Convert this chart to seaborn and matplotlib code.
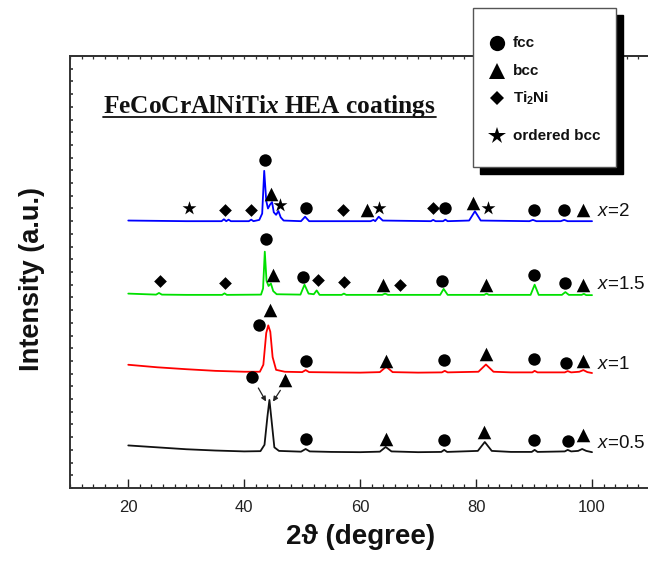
import numpy as np
import pandas as pd
import matplotlib
matplotlib.use("Agg")
import matplotlib.pyplot as plt
import seaborn as sns
from matplotlib.ticker import MultipleLocator, NullFormatter
from matplotlib.patches import Rectangle
from matplotlib.lines import Line2D

# ---------------- data ----------------
sample_names = ["x=0.5", "x=1", "x=1.5", "x=2"]
sample_colors = ["#111111", "#ff0000", "#00e000", "#0000ff"]

tt_05 = [20, 25, 30, 35, 40, 42.8, 43.5, 44.0, 44.35, 44.7, 45.2, 46, 49.8, 50.6, 51.3, 55, 60,
         63.4, 64.4, 65.4, 70, 74.0, 74.5, 75.0, 80.3, 81.5, 82.7, 86, 89.6, 90.1, 90.6,
         95.3, 95.8, 96.4, 97.6, 98.3, 99.0, 100]
I_05 = [3.35, 3.2, 3.05, 2.95, 2.88, 2.9, 3.4, 5.6, 6.93, 5.4, 3.2, 2.92, 2.86, 3.07, 2.88, 2.84, 2.82,
        2.86, 3.23, 2.88, 2.82, 2.84, 3.0, 2.84, 2.92, 3.62, 2.92, 2.84, 2.84, 3.0, 2.84,
        2.88, 3.0, 2.88, 2.92, 3.07, 2.92, 2.82]

tt_1 = [20, 25, 30, 35, 40, 42.7, 43.3, 43.8, 44.15, 44.5, 44.9, 45.5, 47, 50.0, 50.6, 51.2, 55, 60,
        63.4, 64.5, 65.6, 70, 74.1, 74.6, 75.1, 80.4, 81.7, 83.0, 86, 89.7, 90.1, 90.6,
        95.3, 95.8, 96.4, 97.8, 98.5, 99.2, 100]
I_1 = [9.7, 9.5, 9.35, 9.22, 9.15, 9.15, 9.7, 12.2, 12.8, 12.3, 10.3, 9.3, 9.15, 9.12, 9.28, 9.12, 9.1, 9.08,
       9.12, 9.55, 9.12, 9.08, 9.1, 9.22, 9.1, 9.15, 9.72, 9.15, 9.1, 9.1, 9.22, 9.1,
       9.1, 9.2, 9.1, 9.15, 9.28, 9.12, 9.05]

tt_15 = [20, 24.8, 25.3, 25.8, 30, 36.2, 36.6, 37.0, 42.9, 43.25, 43.55, 43.85, 44.2, 44.6, 45.0, 45.6,
         49.7, 50.4, 51.1, 52.0, 52.5, 53.0, 56.8, 57.2, 57.6, 63.8, 64.3, 64.8, 73.8, 74.4, 75.1,
         81.4, 81.8, 82.2, 89.4, 90.1, 90.8, 94.8, 95.4, 96.0, 98.2, 98.6, 99.0, 100]
I_15 = [15.3, 15.22, 15.35, 15.22, 15.2, 15.2, 15.32, 15.2, 15.22, 15.7, 18.6, 16.3, 15.9, 16.1, 15.5, 15.25,
        15.22, 16.0, 15.3, 15.25, 15.55, 15.2, 15.2, 15.3, 15.2, 15.2, 15.3, 15.2, 15.2, 15.67, 15.2,
        15.2, 15.3, 15.2, 15.2, 16.0, 15.2, 15.2, 15.42, 15.2, 15.2, 15.28, 15.18, 15.18]

tt_2 = [20, 30, 36.1, 36.5, 36.9, 37.3, 37.7, 40.8, 41.2, 41.6, 42.6, 43.1, 43.45, 43.8, 44.1, 44.45,
        44.8, 45.1, 45.5, 45.9, 46.3, 46.8, 49.8, 50.5, 51.2, 61.8, 62.3, 62.6, 63.2, 63.9, 72.2, 72.6,
        73.0, 74.3, 74.7, 75.1, 78.8, 79.8, 80.8, 89.2, 89.8, 90.4, 94.6, 95.2, 95.8, 100]
I_2 = [21.05, 21.0, 21.0, 21.15, 21.0, 21.12, 21.0, 21.0, 21.12, 21.0, 21.1, 21.6, 24.96, 22.6, 22.0, 22.3,
       22.5, 21.7, 21.5, 21.8, 21.3, 21.05, 21.0, 21.35, 21.0, 21.0, 21.1, 21.0, 21.35, 21.05, 21.0, 21.1,
       21.0, 21.0, 21.12, 21.0, 21.05, 21.78, 21.05, 21.0, 21.1, 21.0, 21.0, 21.1, 21.0, 21.0]

# phase markers (2theta, offset intensity)
fcc_tt = [43.6, 50.6, 74.6, 90.0, 95.1, 43.7, 50.2, 74.2, 90.0, 95.4,
          42.6, 50.7, 74.5, 90.0, 95.5, 41.4, 50.7, 74.5, 90.0, 95.9]
fcc_I = [25.83, 22.05, 22.0, 21.9, 21.9, 19.58, 16.6, 16.3, 16.77, 16.14,
         12.83, 10.0, 10.1, 10.15, 9.85, 8.74, 3.86, 3.78, 3.78, 3.7]
bcc_tt = [44.6, 61.2, 79.5, 98.4, 44.9, 64.0, 81.7, 98.4, 44.4, 64.5, 81.7, 98.5, 47.0, 64.5, 81.4, 98.5]
bcc_I = [23.15, 21.9, 22.46, 21.9, 16.77, 16.0, 16.0, 16.0, 14.0, 10.0, 10.55, 10.0, 8.5, 3.86, 4.41, 4.17]
ti2ni_tt = [36.7, 41.2, 57.1, 72.6, 25.4, 36.6, 52.7, 57.3, 66.8]
ti2ni_I = [21.9, 21.9, 21.9, 22.0, 16.3, 16.14, 16.4, 16.2, 16.0]
obcc_tt = [30.5, 46.2, 63.3, 82.0]
obcc_I = [22.0, 22.3, 22.0, 22.0]

phase_names = ["fcc", "bcc", "Ti$_{\\mathbf{2}}$Ni", "ordered bcc"]

# labels at the right of each curve
label_tt = [100.8, 100.9, 100.9, 100.8]
label_I = [3.54, 9.69, 16.0, 21.78]
label_txt = [r"$\mathsf{x}$=0.5", r"$\mathsf{x}$=1", r"$\mathsf{x}$=1.5", r"$\mathsf{x}$=2"]

# ---------------- style ----------------
sns.set_style("ticks")
plt.rcParams["font.family"] = ["Liberation Sans", "DejaVu Sans"]
plt.rcParams["mathtext.fontset"] = "custom"
plt.rcParams["mathtext.rm"] = "Liberation Serif:bold"
plt.rcParams["mathtext.it"] = "Liberation Serif:italic:bold"
plt.rcParams["mathtext.sf"] = "Liberation Sans:italic"
plt.rcParams["mathtext.bf"] = "Liberation Sans:bold"

fig = plt.figure(figsize=(6.48, 5.61), dpi=100)
W, H = 648.0, 561.0
ax = fig.add_axes([70.3 / W, 73 / H, 579.7 / W, 432 / H])

frames = []
for name, tt, ii in zip(sample_names, [tt_05, tt_1, tt_15, tt_2], [I_05, I_1, I_15, I_2]):
    frames.append(pd.DataFrame({"two_theta": tt, "intensity": ii, "sample": name}))
curves = pd.concat(frames, ignore_index=True)

sns.lineplot(data=curves, x="two_theta", y="intensity", hue="sample",
             palette=dict(zip(sample_names, sample_colors)), estimator=None, sort=False,
             legend=False, lw=1.3, ax=ax, zorder=2)

phase_data = [(fcc_tt, fcc_I, "o", 80), (bcc_tt, bcc_I, "^", 95),
              (ti2ni_tt, ti2ni_I, "D", 42), (obcc_tt, obcc_I, "*", 110)]
for tt, ii, mk, s in phase_data:
    sns.scatterplot(x=tt, y=ii, marker=mk, s=s, color="black", edgecolor="black",
                    linewidth=0, ax=ax, zorder=3, legend=False)

for t, y, txt in zip(label_tt, label_I, label_txt):
    ax.text(t, y, txt, fontsize=13.5, va="center", ha="left", color="#111111")

# arrows for x=0.5
ax.annotate("", xy=(44.0, 6.62), xytext=(42.2, 8.06),
            arrowprops=dict(arrowstyle="-|>", lw=0.9, color="#222222", mutation_scale=7))
ax.annotate("", xy=(44.7, 6.62), xytext=(46.5, 7.87),
            arrowprops=dict(arrowstyle="-|>", lw=0.9, color="#222222", mutation_scale=7))

ax.set_xlim(10, 110)
ax.set_ylim(0, 34)
ax.xaxis.set_major_locator(MultipleLocator(20))
ax.xaxis.set_minor_locator(MultipleLocator(2))
ax.set_xticks([20, 40, 60, 80, 100])
ax.yaxis.set_major_locator(MultipleLocator(1))
ax.yaxis.set_major_formatter(NullFormatter())
ax.tick_params(axis="x", which="major", direction="in", length=6.5, width=1.0, labelsize=12,
               pad=9, colors="#222222", top=False)
ax.tick_params(axis="x", which="minor", direction="in", length=3.0, width=0.9, top=False,
               colors="#222222")
ax.tick_params(axis="y", which="major", direction="in", length=2.0, width=1.2, colors="#333333",
               right=False)
for side in ["left", "bottom", "top"]:
    ax.spines[side].set_linewidth(1.4)
    ax.spines[side].set_color("#333333")
ax.spines["right"].set_visible(False)

sec = ax.secondary_xaxis("top")
sec.xaxis.set_major_locator(MultipleLocator(2))
sec.xaxis.set_major_formatter(NullFormatter())
sec.tick_params(direction="in", length=2.5, width=0.9, colors="#333333")
sec.spines["top"].set_linewidth(1.4)
sec.spines["top"].set_color("#333333")

ax.set_xlabel("2ϑ (degree)", fontsize=20, fontweight="bold", color="#111111",
              family=["Liberation Sans", "DejaVu Sans"])
ax.xaxis.set_label_coords(0.5, -0.083)
ax.set_ylabel("Intensity (a.u.)", fontsize=19.5, fontweight="bold", color="#111111")
ax.yaxis.set_label_coords(-0.044, 0.484)

# title with underline
title = fig.text(103 / W, 1 - 113 / H, r"FeCoCrAlNiTi$\mathit{x}$ HEA coatings",
                 fontsize=18.3, fontweight="bold", family="Liberation Serif",
                 ha="left", va="baseline", color="#111111")
fig.canvas.draw()
bb = title.get_window_extent(fig.canvas.get_renderer())
uy = 1 - 116.8 / H
fig.add_artist(Line2D([bb.x0 / W, bb.x1 / W], [uy, uy], transform=fig.transFigure,
                      color="#111111", lw=1.3))

# legend box with drop shadow
def fx(px):
    return px / W

def fy(py):
    return 1 - py / H

fig.add_artist(Rectangle((fx(479.7), fy(173.5)), fx(623) - fx(479.7), fy(15.3) - fy(173.5),
                         transform=fig.transFigure, facecolor="black", edgecolor="black", zorder=5))
fig.add_artist(Rectangle((fx(472.7), fy(166.7)), fx(616) - fx(472.7), fy(8.3) - fy(166.7),
                         transform=fig.transFigure, facecolor="white", edgecolor="#555555",
                         lw=1.0, zorder=6))
leg_rows = [43.3, 70.7, 98.3, 136.0]
leg_markers = [("o", 11), ("^", 11), ("D", 7), ("*", 13)]
for (mk, ms), row, name in zip(leg_markers, leg_rows, phase_names):
    fig.add_artist(Line2D([fx(497)], [fy(row)], transform=fig.transFigure, marker=mk,
                          markersize=ms, color="black", markeredgewidth=0, linestyle="none",
                          zorder=7))
    fig.text(fx(513), fy(row), name, fontsize=11, fontweight="bold", ha="left",
             va="center", color="#111111", zorder=7)

fig.savefig("out.png", dpi=100)
